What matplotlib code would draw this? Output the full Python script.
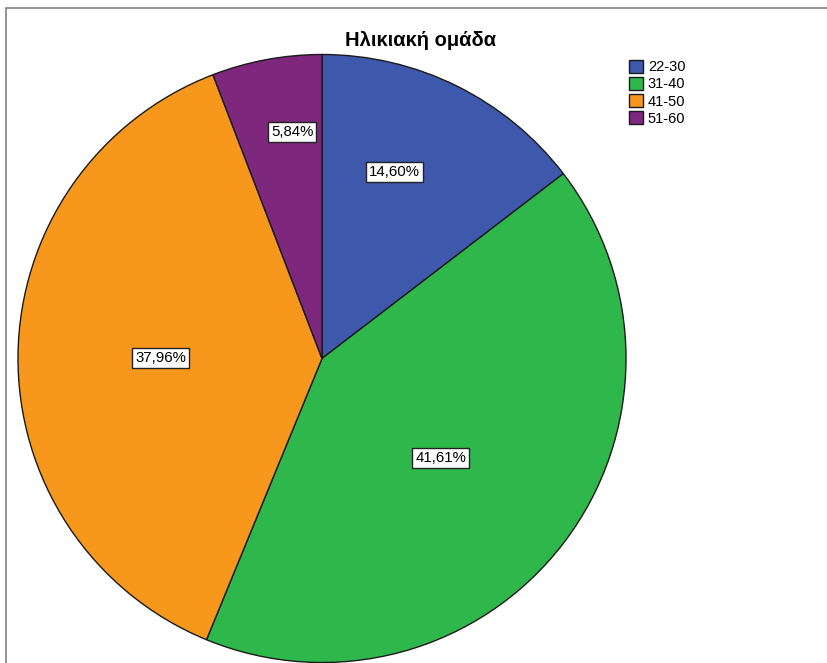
import numpy as np
import matplotlib
matplotlib.use("Agg")
import matplotlib.pyplot as plt
from matplotlib.patches import Rectangle

# Age group shares (%)
groups = ["22-30", "31-40", "41-50", "51-60"]
shares = [14.60, 41.61, 37.96, 5.84]
colors = ["#3e58ac", "#2eb84b", "#f7981d", "#7d277d"]
# where each value label sits: fraction of radius, angle nudge in degrees
label_r = [0.66, 0.51, 0.53, 0.75]
label_da = [5.0, -2.5, 0.5, -3.0]

plt.rcParams["font.family"] = ["Liberation Sans", "DejaVu Sans"]

W, H = 828, 663
fig = plt.figure(figsize=(W / 100, H / 100), dpi=100)

# grey frame around the chart
fig.add_artist(Rectangle((6 / W, -0.01), 1.0, 1 - 8 / H + 0.01,
                         transform=fig.transFigure, fill=False,
                         edgecolor="#7f7f7f", lw=1.2))

cx, cy, R = 322, 358.5, 304
ax = fig.add_axes([(cx - R) / W, (H - cy - R) / H, 2 * R / W, 2 * R / H])
wedges, _ = ax.pie(shares, colors=colors, startangle=90, counterclock=False,
                   radius=1.0, wedgeprops=dict(edgecolor="#1a1a1a", linewidth=1.0))
ax.set_xlim(-1, 1)
ax.set_ylim(-1, 1)
ax.set_aspect("equal")
ax.axis("off")

for w, v, r, da in zip(wedges, shares, label_r, label_da):
    mid = np.deg2rad((w.theta1 + w.theta2) / 2 + da)
    ax.text(r * np.cos(mid), r * np.sin(mid), f"{v:.2f}%".replace(".", ","),
            ha="center", va="center", fontsize=10.8, color="black",
            bbox=dict(boxstyle="square,pad=0.2", fc="white", ec="#222222", lw=1))

fig.text(421 / W, 1 - 40 / H, "Ηλικιακή ομάδα", ha="center", va="center",
         fontsize=14.5, fontweight="bold")

leg = fig.legend(wedges, groups, loc="upper left", bbox_to_anchor=(623 / W, 1 - 54 / H),
                 frameon=False, fontsize=10.5, handlelength=1.0, handleheight=1.0,
                 handletextpad=0.3, labelspacing=0.18, borderaxespad=0)

fig.savefig("out.png", dpi=100)
